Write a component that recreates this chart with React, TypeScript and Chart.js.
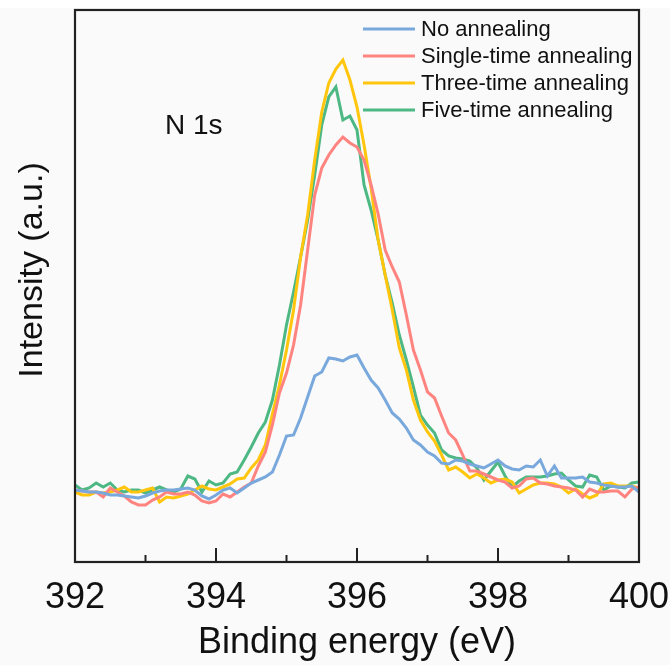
import React, { useEffect, useRef } from 'react';
import { Chart, registerables } from 'chart.js';

Chart.register(...registerables);

const FONT = '"Liberation Sans", Arial, Helvetica, sans-serif';

const bindingEnergy = [
  392.0, 392.1, 392.2, 392.3, 392.4, 392.5, 392.6, 392.7, 392.8, 392.9,
  393.0, 393.1, 393.2, 393.3, 393.4, 393.5, 393.6, 393.7, 393.8, 393.9,
  394.0, 394.1, 394.2, 394.3, 394.4, 394.5, 394.6, 394.7, 394.8, 394.9,
  395.0, 395.1, 395.2, 395.3, 395.4, 395.5, 395.6, 395.7, 395.8, 395.9,
  396.0, 396.1, 396.2, 396.3, 396.4, 396.5, 396.6, 396.7, 396.8, 396.9,
  397.0, 397.1, 397.2, 397.3, 397.4, 397.5, 397.6, 397.7, 397.8, 397.9,
  398.0, 398.1, 398.2, 398.3, 398.4, 398.5, 398.6, 398.7, 398.8, 398.9,
  399.0, 399.1, 399.2, 399.3, 399.4, 399.5, 399.6, 399.7, 399.8, 399.9,
  400.0,
];

const noAnnealing = [
  72, 71, 70, 70, 69, 67, 67, 66, 65, 64,
  66, 69, 71, 72, 72, 73, 74, 72, 66, 63,
  67, 72, 74, 69, 74, 79, 82, 85, 90, 107,
  126, 127, 144, 165, 186, 190, 204, 203, 201, 205,
  207, 194, 182, 174, 162, 149, 143, 134, 122, 117,
  110, 106, 99, 98, 102, 101, 98, 96, 94, 98,
  102, 96, 93, 92, 96, 95, 102, 86, 96, 84,
  84, 84, 85, 80, 79, 77, 76, 75, 75, 76,
  70,
];

const singleTimeAnnealing = [
  72, 71, 70, 70, 65, 74, 70, 66, 60, 57,
  57, 62, 65, 70, 68, 68, 70, 67, 61, 59,
  61, 68, 65, 70, 75, 79, 96, 110, 137, 169,
  189, 217, 257, 312, 367, 394, 407, 417, 425, 419,
  415, 402, 377, 348, 312, 295, 280, 247, 212, 192,
  170, 164, 146, 129, 122, 107, 91, 91, 88, 85,
  82, 80, 74, 76, 83, 84, 79, 78, 76, 75,
  74, 72, 65, 73, 70, 70, 71, 71, 65, 73,
  75,
];

const threeTimeAnnealing = [
  70, 67, 67, 70, 69, 70, 72, 75, 70, 70,
  72, 74, 60, 65, 64, 66, 68, 72, 76, 73,
  72, 75, 78, 83, 84, 94, 102, 117, 148, 177,
  212, 252, 305, 347, 402, 450, 479, 493, 502, 482,
  455, 417, 374, 322, 287, 252, 214, 192, 162, 142,
  130, 121, 107, 92, 95, 90, 84, 88, 84, 79,
  82, 83, 80, 69, 73, 77, 79, 79, 78, 75,
  69, 73, 68, 64, 67, 78, 79, 76, 76, 76,
  74,
];

const fiveTimeAnnealing = [
  77, 72, 74, 79, 75, 79, 72, 70, 72, 72,
  69, 72, 75, 72, 70, 73, 86, 83, 70, 81,
  77, 79, 88, 90, 102, 115, 129, 140, 162, 197,
  237, 270, 305, 342, 387, 437, 465, 475, 442, 446,
  432, 377, 352, 322, 287, 259, 227, 202, 175, 147,
  137, 129, 112, 106, 104, 103, 101, 94, 82, 91,
  100, 86, 75, 81, 85, 85, 85, 86, 88, 89,
  82, 76, 75, 87, 85, 72, 76, 75, 74, 79,
  80,
];

const seriesLabels = ['No annealing', 'Single-time annealing', 'Three-time annealing', 'Five-time annealing'];
const seriesValues = [noAnnealing, singleTimeAnnealing, threeTimeAnnealing, fiveTimeAnnealing];
const seriesColors = ['#78A8DC', '#FF8480', '#FFC60D', '#4DB883'];

const xMin = 392;
const xMax = 400;
const majorTickStep = 2;
const minorTickValues = [393, 395, 397, 399];
const yMin = 0;
const yMax = 552;

const xTitle = 'Binding energy (eV)';
const yTitle = 'Intensity (a.u.)';
const peakLabel = 'N 1s';

const decorPlugin = {
  id: 'decor',
  beforeDraw(chart: any) {
    const { ctx, width, height, chartArea } = chart;
    ctx.save();
    ctx.fillStyle = '#fafafa';
    ctx.fillRect(0, 0, width, height);
    ctx.fillStyle = '#ffffff';
    ctx.fillRect(0, 0, width, chartArea.top - 2);
    ctx.restore();
  },
  afterDraw(chart: any) {
    const { ctx, chartArea } = chart;
    const { left, right, top, bottom } = chartArea;
    const xs = chart.scales.x;
    ctx.save();
    // frame
    ctx.strokeStyle = '#222222';
    ctx.lineWidth = 2.2;
    ctx.strokeRect(left, top, right - left, bottom - top);
    // inward ticks
    ctx.lineWidth = 2;
    xs.ticks.forEach((t: any) => {
      const px = xs.getPixelForValue(t.value);
      ctx.beginPath();
      ctx.moveTo(px, bottom);
      ctx.lineTo(px, bottom - 14);
      ctx.stroke();
    });
    minorTickValues.forEach((v) => {
      const px = xs.getPixelForValue(v);
      ctx.beginPath();
      ctx.moveTo(px, bottom);
      ctx.lineTo(px, bottom - 7);
      ctx.stroke();
    });
    // legend
    ctx.font = `22px ${FONT}`;
    ctx.textBaseline = 'middle';
    ctx.textAlign = 'left';
    chart.data.datasets.forEach((ds: any, i: number) => {
      const y = top + 19 + i * 27;
      const x0 = right - 276;
      ctx.strokeStyle = ds.borderColor;
      ctx.lineWidth = 3;
      ctx.beginPath();
      ctx.moveTo(x0, y);
      ctx.lineTo(x0 + 52, y);
      ctx.stroke();
      ctx.fillStyle = '#111111';
      ctx.fillText(ds.label, x0 + 58, y + 1);
    });
    // peak label
    ctx.font = `28px ${FONT}`;
    ctx.fillStyle = '#111111';
    ctx.fillText(peakLabel, left + 90, top + 116);
    // y title
    ctx.save();
    ctx.translate(33, 270);
    ctx.rotate(-Math.PI / 2);
    ctx.textAlign = 'center';
    ctx.textBaseline = 'middle';
    ctx.font = `34px ${FONT}`;
    ctx.fillText(yTitle, 0, 0);
    ctx.restore();
    ctx.restore();
  },
};

export default function App() {
  const ref = useRef<HTMLCanvasElement | null>(null);
  useEffect(() => {
    if (!ref.current) return;
    const chart = new Chart(ref.current, {
      type: 'line',
      data: {
        datasets: seriesLabels.map((label, i) => ({
          label,
          data: bindingEnergy.map((x, j) => ({ x, y: seriesValues[i][j] })),
          borderColor: seriesColors[i],
          backgroundColor: seriesColors[i],
          borderWidth: 3,
          pointRadius: 0,
          tension: 0,
          fill: false,
        })),
      },
      options: {
        responsive: false,
        animation: false,
        devicePixelRatio: 1,
        layout: { padding: { top: 10, right: 31, left: 0, bottom: 0 } },
        plugins: {
          legend: { display: false },
          tooltip: { enabled: false },
        },
        scales: {
          x: {
            type: 'linear',
            min: xMin,
            max: xMax,
            grid: { display: false, drawTicks: false },
            border: { display: false },
            ticks: {
              stepSize: majorTickStep,
              padding: 14,
              color: '#111111',
              font: { family: FONT, size: 36 },
              maxRotation: 0,
              callback: (v: any) => String(v),
            },
            title: {
              display: true,
              text: xTitle,
              color: '#111111',
              font: { family: FONT, size: 36 },
              padding: { top: 0, bottom: 0 },
            },
            afterFit: (s: any) => {
              s.height = 103;
              s.paddingLeft = 0;
              s.paddingRight = 0;
            },
          },
          y: {
            min: yMin,
            max: yMax,
            grid: { display: false, drawTicks: false },
            border: { display: false },
            ticks: { display: false },
            afterFit: (s: any) => {
              s.width = 75;
            },
          },
        },
      },
      plugins: [decorPlugin],
    } as any);
    return () => chart.destroy();
  }, []);
  return (
    <div style={{ position: 'fixed', left: 0, top: 0, width: 670, height: 665, background: '#fafafa' }}>
      <canvas ref={ref} width={670} height={665} />
    </div>
  );
}
